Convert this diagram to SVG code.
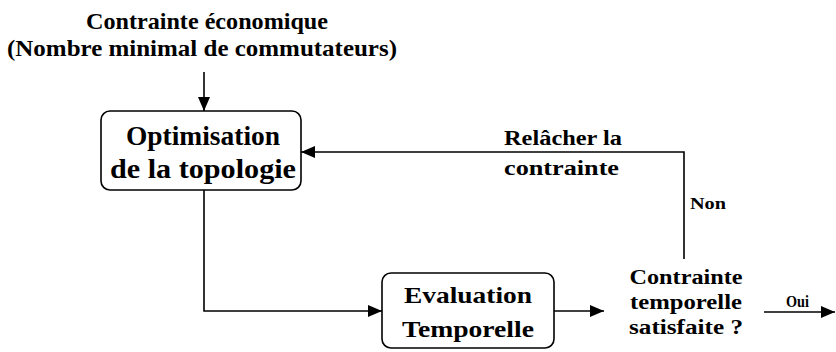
<svg xmlns="http://www.w3.org/2000/svg" width="836" height="352" viewBox="0 0 836 352">
<style>
text { font-family: "Liberation Serif", "Times New Roman", serif; font-weight: 700; fill: #000; }
.box { fill: #fff; stroke: #000; stroke-width: 1.6; }
.conn { fill: none; stroke: #000; stroke-width: 1.6; }
.t1 { font-size: 23px; }
.t2 { font-size: 28px; }
.t3 { font-size: 23px; }
.t4 { font-size: 20px; }
.t5 { font-size: 17px; }
</style>
<defs>
<marker id="ah" viewBox="0 0 14 12" refX="14" refY="6" markerWidth="14" markerHeight="12" markerUnits="userSpaceOnUse" orient="auto">
<path d="M0,0 L14,6 L0,12 Z" fill="#000"/>
</marker>
</defs>
<g id="title">
<text class="t1" x="207" y="29" text-anchor="middle" textLength="242" lengthAdjust="spacingAndGlyphs">Contrainte économique</text>
<text class="t1" x="202" y="56" text-anchor="middle" textLength="390" lengthAdjust="spacingAndGlyphs">(Nombre minimal de commutateurs)</text>
</g>
<g id="connectors">
<path class="conn" d="M204,72 L204,111" marker-end="url(#ah)"/>
<path class="conn" d="M204,190 L204,311 L382,311" marker-end="url(#ah)"/>
<path class="conn" d="M554,311 L604,311" marker-end="url(#ah)"/>
<path class="conn" d="M684,259 L684,152 L301,152" marker-end="url(#ah)"/>
<path class="conn" d="M764,312 L835,312" marker-end="url(#ah)"/>
</g>
<g id="optimisation">
<rect class="box" x="101" y="111" width="200" height="79" rx="9"/>
<text class="t2" x="203" y="145" text-anchor="middle" textLength="154" lengthAdjust="spacingAndGlyphs">Optimisation</text>
<text class="t2" x="203" y="178" text-anchor="middle" textLength="186" lengthAdjust="spacingAndGlyphs">de la topologie</text>
</g>
<g id="evaluation">
<rect class="box" x="382" y="273" width="172" height="75" rx="9"/>
<text class="t3" x="468" y="303" text-anchor="middle" textLength="128" lengthAdjust="spacingAndGlyphs">Evaluation</text>
<text class="t3" x="468" y="337" text-anchor="middle" textLength="132" lengthAdjust="spacingAndGlyphs">Temporelle</text>
</g>
<g id="decision">
<text class="t4" x="686" y="284" text-anchor="middle" textLength="113" lengthAdjust="spacingAndGlyphs">Contrainte</text>
<text class="t4" x="686" y="309" text-anchor="middle" textLength="112" lengthAdjust="spacingAndGlyphs">temporelle</text>
<text class="t4" x="686" y="334" text-anchor="middle" textLength="114" lengthAdjust="spacingAndGlyphs">satisfaite ?</text>
</g>
<g id="labels">
<text class="t4" x="504" y="145" textLength="118" lengthAdjust="spacingAndGlyphs">Relâcher la</text>
<text class="t4" x="504" y="175" textLength="115" lengthAdjust="spacingAndGlyphs">contrainte</text>
<text class="t5" x="690" y="209" textLength="36" lengthAdjust="spacingAndGlyphs">Non</text>
<text class="t5" x="786" y="307" textLength="23" lengthAdjust="spacingAndGlyphs">Oui</text>
</g>
</svg>
